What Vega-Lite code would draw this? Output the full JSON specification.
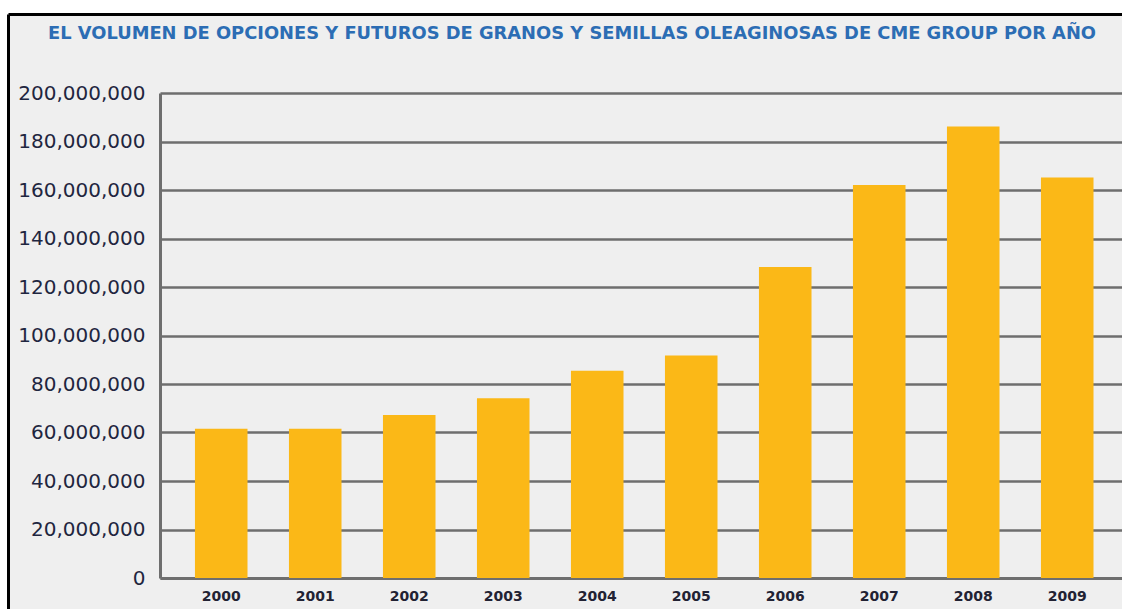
{
  "$schema": "https://vega.github.io/schema/vega-lite/v6.json",
  "autosize": "none",
  "padding": {"left": 8, "top": 14, "right": 0, "bottom": 0},
  "width": 1114,
  "height": 595,
  "background": "#ffffff",
  "config": {
    "view": {"fill": "#efefef", "stroke": null},
    "font": "DejaVu Sans"
  },
  "title": {
    "text": "EL VOLUMEN DE OPCIONES Y FUTUROS DE GRANOS Y SEMILLAS OLEAGINOSAS DE CME GROUP POR AÑO",
    "anchor": "middle",
    "frame": "group",
    "offset": -29,
    "dx": 7,
    "font": "DejaVu Sans",
    "fontSize": 17.85,
    "fontWeight": "bold",
    "color": "#2c6db4"
  },
  "data": {
    "values": [
      {"year": "2000", "volume": 61500000},
      {"year": "2001", "volume": 61500000},
      {"year": "2002", "volume": 67200000},
      {"year": "2003", "volume": 74100000},
      {"year": "2004", "volume": 85500000},
      {"year": "2005", "volume": 91800000},
      {"year": "2006", "volume": 128200000},
      {"year": "2007", "volume": 162100000},
      {"year": "2008", "volume": 186200000},
      {"year": "2009", "volume": 165200000}
    ]
  },
  "layer": [
    {
      "mark": {"type": "bar", "opacity": 0},
      "encoding": {
        "x": {
          "field": "year",
          "type": "ordinal",
          "axis": {"orient": "top", "offset": 0, "title": null, "labels": false, "ticks": false, "grid": false, "domainColor": "#000000", "domainWidth": 3}
        },
        "y": {
          "field": "volume",
          "type": "quantitative",
          "scale": {"domain": [0, 200000000], "nice": false},
          "axis": {"orient": "left", "offset": 0, "title": null, "labels": false, "ticks": false, "grid": false, "domainColor": "#000000", "domainWidth": 3}
        }
      }
    },
    {
      "mark": {"type": "bar", "color": "#fbb817"},
      "encoding": {
        "x": {
          "field": "year",
          "type": "ordinal",
          "scale": {"range": [152, 1114], "paddingInner": 0.441, "paddingOuter": 0.3375, "align": 0.551},
          "axis": {
            "orient": "bottom",
            "title": null,
            "offset": -31,
            "labelAngle": 0,
            "ticks": false,
            "grid": false,
            "domainColor": "#6e6e6e",
            "domainWidth": 3,
            "labelFont": "DejaVu Sans",
            "labelFontSize": 14,
            "labelFontWeight": "bold",
            "labelColor": "#222233",
            "labelPadding": 11
          }
        },
        "y": {
          "field": "volume",
          "type": "quantitative",
          "scale": {"domain": [0, 200000000], "range": [564, 79], "nice": false},
          "axis": {
            "orient": "left",
            "title": null,
            "offset": -152,
            "grid": true,
            "values": [0, 20000000, 40000000, 60000000, 80000000, 100000000, 120000000, 140000000, 160000000, 180000000, 200000000],
            "format": ",d",
            "ticks": false,
            "domainColor": "#6e6e6e",
            "domainWidth": 3,
            "gridColor": "#6e6e6e",
            "gridWidth": 2.5,
            "labelFont": "DejaVu Sans",
            "labelFontSize": 20,
            "labelColor": "#1f2640",
            "labelPadding": 15
          }
        }
      }
    }
  ],
  "resolve": {"scale": {"x": "independent", "y": "independent"}, "axis": {"x": "independent", "y": "independent"}}
}
